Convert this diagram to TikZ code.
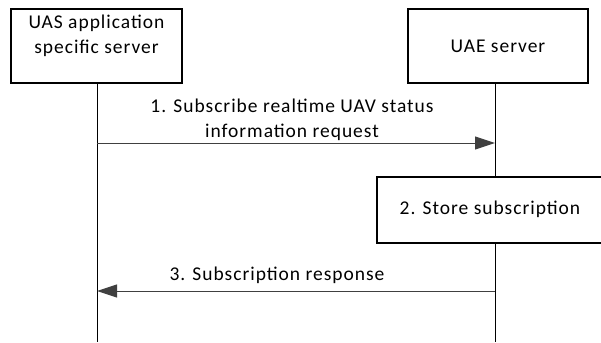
\documentclass[tikz,border=0pt]{standalone}
\usepackage{fontspec}
\setmainfont{Carlito}[LetterSpace=5.0]
\usetikzlibrary{arrows.meta}
\begin{document}
\begin{tikzpicture}[x=1pt,y=-1pt,
  entity/.style={draw=black,line width=1.2pt,fill=white},
  txt/.style={font=\fontsize{19.5}{25}\selectfont,align=center,inner sep=0pt},
  life/.style={draw=black,line width=1pt},
  msg/.style={draw=black!75,line width=1pt,-{Triangle[length=20pt,width=13pt,fill=black!75]}}]
\useasboundingbox[fill=white] (0,0) rectangle (601,342);
\draw[life] (97,83) -- (97,342);
\draw[life] (495,83) -- (495,342);
\path[entity] (11,9) rectangle (182,83);
\node[txt] (uas) at (96.5,36) {UAS application\\specific server};
\path[entity] (408,9) rectangle (588,83);
\node[txt] (uae) at (498,46) {UAE server};
\coordinate (a1s) at (97,143);
\coordinate (a1e) at (495,143);
\draw[msg] (a1s) -- (a1e);
\node[txt] (m1) at (292,120) {1. Subscribe realtime UAV status\\information request};
\path[entity] (377,177) -- (603,177) -- (603,243) -- (377,243) -- cycle;
\node[txt] (store) at (490,209) {2. Store subscription};
\coordinate (a3s) at (495,291);
\coordinate (a3e) at (97,291);
\draw[msg] (a3s) -- (a3e);
\node[txt] (m3) at (277,275) {3. Subscription response};
\end{tikzpicture}
\end{document}
